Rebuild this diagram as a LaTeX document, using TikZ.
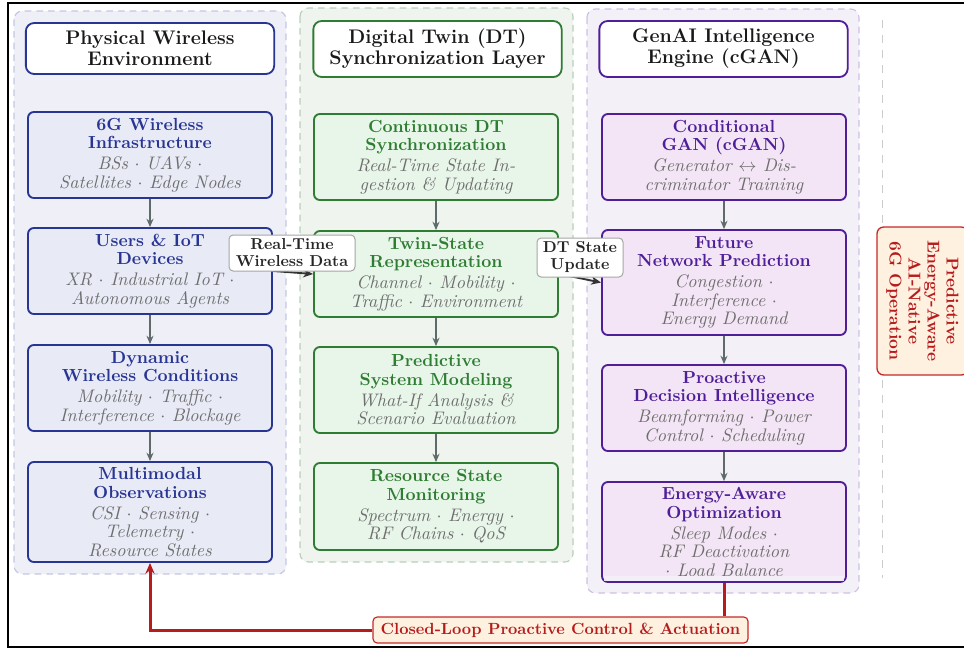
\documentclass[tikz,border=0pt]{standalone}
\usetikzlibrary{arrows.meta}
\definecolor{c1bg}{HTML}{EFF0F7}
\definecolor{c1dash}{HTML}{C3C7E3}
\definecolor{c1dk}{HTML}{283593}
\definecolor{c1fill}{HTML}{E8EAF6}
\definecolor{c2bg}{HTML}{EFF4EF}
\definecolor{c2dash}{HTML}{B9CFBA}
\definecolor{c2dk}{HTML}{2E7D32}
\definecolor{c2fill}{HTML}{E8F5E9}
\definecolor{c3bg}{HTML}{F3F0F8}
\definecolor{c3dash}{HTML}{CDBFE6}
\definecolor{c3dk}{HTML}{4F1F99}
\definecolor{c3fill}{HTML}{F3E5F5}
\definecolor{subgray}{HTML}{6E6E6E}
\definecolor{arrgray}{HTML}{5F6B6B}
\definecolor{loopred}{HTML}{B71C1C}
\definecolor{redbd}{HTML}{C62828}
\definecolor{orfill}{HTML}{FFF1E0}
\definecolor{sepgray}{HTML}{CCCCCC}
\newcommand{\mysub}[1]{\textcolor{subgray}{\fontsize{10.9}{11.1}\selectfont\mdseries\itshape #1}}
\begin{document}
\begin{tikzpicture}[x=0.6pt,y=-0.6pt,
  container/.style={dash pattern=on 4pt off 3pt, line width=0.7pt, rounded corners=5pt},
  titlebox/.style={draw=#1, fill=white, line width=1.1pt, rounded corners=5pt, align=center,
    text=black!90, font=\fontsize{11.8}{12.6}\selectfont\bfseries, inner sep=0pt, minimum width=149pt},
  stage/.style 2 args={draw=#1, fill=#2, text=#1, line width=1.1pt, rounded corners=3.5pt,
    align=center, font=\fontsize{10.5}{11.1}\selectfont\bfseries, inner sep=0pt,
    minimum width=146.4pt, minimum height=51.6pt},
  flow/.style={draw=arrgray, line width=0.9pt, -{Stealth[length=5pt,width=4.2pt]}},
  dataflow/.style={draw=black!80, line width=1.1pt, -{Stealth[length=6pt,width=5pt]}},
  tag/.style={draw=gray!70, fill=white, rounded corners=2.5pt, line width=0.6pt, align=center,
    font=\fontsize{9.5}{10.2}\selectfont\bfseries, text=black!85, inner sep=0pt},
  loopline/.style={draw=loopred, line width=1.8pt},
  sepline/.style={draw=sepgray, line width=0.6pt, dash pattern=on 5pt off 4pt}
]
\useasboundingbox (0,0) rectangle (964,649);

% frame
\draw[line width=1.2pt] (7.7,3) rectangle (1000,647);

% containers
\draw[container, draw=c1dash, fill=c1bg] (14,11) rectangle (286,574);
\draw[container, draw=c2dash, fill=c2bg] (300,8) rectangle (573,562);
\draw[container, draw=c3dash, fill=c3bg] (587,9) rectangle (859,593);
\draw[sepline] (882,20) -- (882,578);

% column 1
\node[titlebox=c1dk, minimum height=30.6pt] (c1t) at (150,48.5) {Physical Wireless\\Environment};
\node[stage={c1dk}{c1fill}] (c1a) at (150,155) {6G Wireless\\Infrastructure\\[1.5pt]\mysub{BSs $\cdot$ UAVs $\cdot$}\\\mysub{Satellites $\cdot$ Edge Nodes}};
\node[stage={c1dk}{c1fill}] (c1b) at (150,271) {Users \& IoT\\Devices\\[1.5pt]\mysub{XR $\cdot$ Industrial IoT $\cdot$}\\\mysub{Autonomous Agents}};
\node[stage={c1dk}{c1fill}] (c1c) at (150,388) {Dynamic\\Wireless Conditions\\[1.5pt]\mysub{Mobility $\cdot$ Traffic $\cdot$}\\\mysub{Interference $\cdot$ Blockage}};
\node[stage={c1dk}{c1fill}, minimum height=60pt] (c1d) at (150,512) {Multimodal\\Observations\\[1.5pt]\mysub{CSI $\cdot$ Sensing $\cdot$}\\\mysub{Telemetry $\cdot$}\\\mysub{Resource States}};

% column 2
\node[titlebox=c2dk, minimum height=33.6pt] (c2t) at (437.5,49) {Digital Twin (DT)\\Synchronization Layer};
\node[stage={c2dk}{c2fill}] (c2a) at (436,157) {Continuous DT\\Synchronization\\[1.5pt]\mysub{Real-Time State In-}\\\mysub{gestion \& Updating}};
\node[stage={c2dk}{c2fill}] (c2b) at (436,274) {Twin-State\\Representation\\[1.5pt]\mysub{Channel $\cdot$ Mobility $\cdot$}\\\mysub{Traffic $\cdot$ Environment}};
\node[stage={c2dk}{c2fill}] (c2c) at (436,390) {Predictive\\System Modeling\\[1.5pt]\mysub{What-If Analysis \&}\\\mysub{Scenario Evaluation}};
\node[stage={c2dk}{c2fill}, minimum height=52.2pt] (c2d) at (436,506.5) {Resource State\\Monitoring\\[1.5pt]\mysub{Spectrum $\cdot$ Energy $\cdot$}\\\mysub{RF Chains $\cdot$ QoS}};

% column 3
\node[titlebox=c3dk, minimum height=33.6pt] (c3t) at (723.5,49) {GenAI Intelligence\\Engine (cGAN)};
\node[stage={c3dk}{c3fill}] (c3a) at (724,157) {Conditional\\GAN (cGAN)\\[1.5pt]\mysub{Generator $\leftrightarrow$ Dis-}\\\mysub{criminator Training}};
\node[stage={c3dk}{c3fill}, minimum height=63pt] (c3b) at (724,282.5) {Future\\Network Prediction\\[1.5pt]\mysub{Congestion $\cdot$}\\\mysub{Interference $\cdot$}\\\mysub{Energy Demand}};
\node[stage={c3dk}{c3fill}] (c3c) at (724,408) {Proactive\\Decision Intelligence\\[1.5pt]\mysub{Beamforming $\cdot$ Power}\\\mysub{Control $\cdot$ Scheduling}};
\node[stage={c3dk}{c3fill}, minimum height=60pt] (c3d) at (724,532) {Energy-Aware\\Optimization\\[1.5pt]\mysub{Sleep Modes $\cdot$}\\\mysub{RF Deactivation}\\\mysub{$\cdot$ Load Balance}};
\fill[c3bg, opacity=0.85] (604,575.5) rectangle (844,580.6);

% vertical flows
\draw[flow] (c1a) -- (c1b);
\draw[flow] (c1b) -- (c1c);
\draw[flow] (c1c) -- (c1d);
\draw[flow] (c2a) -- (c2b);
\draw[flow] (c2b) -- (c2c);
\draw[flow] (c2c) -- (c2d);
\draw[flow] (c3a) -- (c3b);
\draw[flow] (c3b) -- (c3c);
\draw[flow] (c3c) -- (c3d);

% cross-layer flows
\draw[dataflow] (c1b.east) -- (c2b.west);
\draw[dataflow] (c2b.east) -- (c3b.west);
\node[tag, minimum width=75.6pt, minimum height=21.6pt] (lab1) at (292,253) {Real-Time\\Wireless Data};
\node[tag, minimum width=51.6pt, minimum height=23.4pt] (lab2) at (580,257.5) {DT State\\Update};

% output node
\node[draw=redbd, fill=orfill, line width=0.8pt, rounded corners=4pt, rotate=-90, text=loopred,
  font=\fontsize{10.3}{11.4}\selectfont\bfseries, align=center, minimum width=88.8pt,
  minimum height=54.6pt, inner sep=0pt] (out) at (922.5,301) {Predictive\\Energy-Aware\\AI-Native\\6G Operation};

% closed loop
\node[draw=redbd, fill=orfill, line width=0.7pt, rounded corners=2.5pt, text=loopred,
  font=\fontsize{9.7}{11}\selectfont\bfseries, minimum width=225pt, minimum height=15.6pt,
  inner sep=0pt] (loop) at (560.5,630) {Closed-Loop Proactive Control \& Actuation};
\draw[loopline] (c3d.south) -- (c3d.south |- loop.north);
\draw[loopline, -{Stealth[length=6.5pt,width=5.5pt]}] (loop.west) -| (c1d.south);
\end{tikzpicture}
\end{document}
